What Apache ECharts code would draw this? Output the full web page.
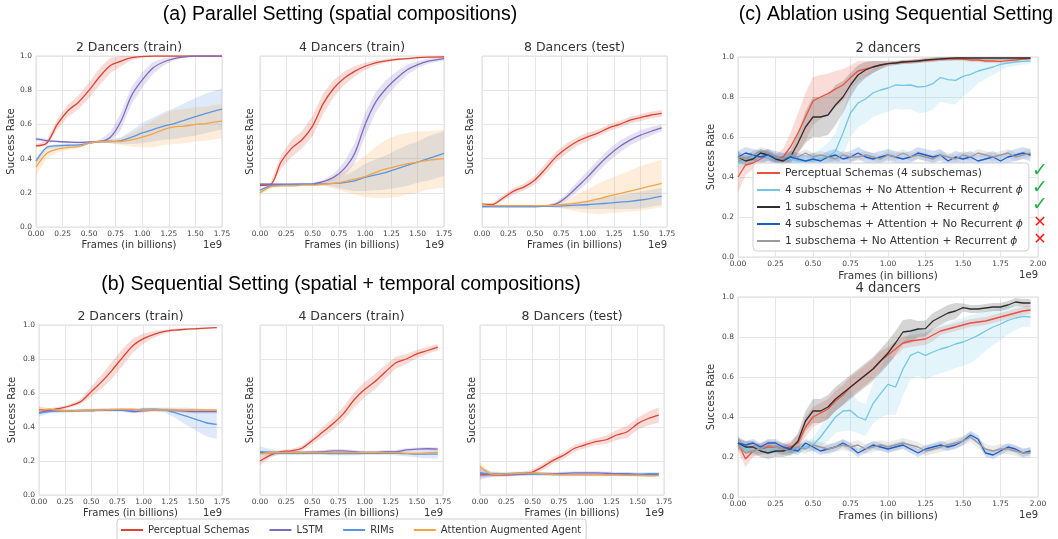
<!DOCTYPE html>
<html>
<head>
<meta charset="utf-8">
<script src="https://cdn.jsdelivr.net/npm/echarts@6/dist/echarts.min.js"></script>
<style>
  html, body { margin: 0; background: #fff; }
  #chart { width: 1058px; height: 539px; }
</style>
</head>
<body>
<div id="chart"></div>
<script>
// x positions (billions of frames)
const xA = [0, 0.1, 0.2, 0.3, 0.4, 0.5, 0.6, 0.7, 0.8, 0.9, 1.0, 1.1, 1.2, 1.3, 1.4, 1.5, 1.6, 1.75];
const xB = [0, 0.1, 0.2, 0.3, 0.4, 0.5, 0.6, 0.7, 0.8, 0.9, 1.0, 1.1, 1.2, 1.3, 1.4, 1.5, 1.6, 1.7];
const xC = [0, 0.05, 0.1, 0.15, 0.2, 0.25, 0.3, 0.35, 0.4, 0.45, 0.5, 0.55, 0.6, 0.65, 0.7, 0.75, 0.8, 0.85, 0.9, 0.95,
  1.0, 1.05, 1.1, 1.15, 1.2, 1.25, 1.3, 1.35, 1.4, 1.45, 1.5, 1.55, 1.6, 1.65, 1.7, 1.75, 1.8, 1.85, 1.9, 1.95];

const xMaxAB = 1.75;
const xMaxC = 2.0;

// (a) 2 dancers (train)
const a1_ps = [0.475, 0.49, 0.60, 0.68, 0.73, 0.80, 0.88, 0.945, 0.97, 0.99, 0.997, 1, 1, 1, 1, 1, 1, 1];
const a1_ps_sd = [0.01, 0.015, 0.03, 0.035, 0.04, 0.045, 0.05, 0.045, 0.03, 0.015, 0.005, 0, 0, 0, 0, 0, 0, 0];
const a1_lstm = [0.515, 0.505, 0.50, 0.497, 0.495, 0.497, 0.50, 0.525, 0.62, 0.77, 0.86, 0.93, 0.965, 0.985, 0.995, 1, 1, 1];
const a1_lstm_sd = [0.01, 0.01, 0.005, 0.005, 0.005, 0.005, 0.01, 0.03, 0.05, 0.05, 0.045, 0.035, 0.02, 0.01, 0.005, 0, 0, 0];
const a1_rims = [0.385, 0.465, 0.475, 0.478, 0.48, 0.49, 0.50, 0.50, 0.505, 0.525, 0.55, 0.57, 0.59, 0.605, 0.625, 0.645, 0.665, 0.69];
const a1_rims_sd = [0.02, 0.01, 0.01, 0.01, 0.01, 0.005, 0.005, 0.01, 0.02, 0.04, 0.06, 0.07, 0.08, 0.09, 0.1, 0.11, 0.115, 0.12];
const a1_aaa = [0.35, 0.43, 0.455, 0.465, 0.47, 0.49, 0.50, 0.50, 0.50, 0.51, 0.525, 0.545, 0.57, 0.585, 0.59, 0.60, 0.605, 0.62];
const a1_aaa_sd = [0.05, 0.03, 0.02, 0.015, 0.01, 0.005, 0.005, 0.01, 0.02, 0.04, 0.06, 0.08, 0.09, 0.1, 0.1, 0.1, 0.1, 0.1];

// (a) 4 dancers (train)
const a2_ps = [0.244, 0.248, 0.38, 0.46, 0.51, 0.59, 0.72, 0.81, 0.87, 0.91, 0.94, 0.96, 0.972, 0.98, 0.985, 0.99, 0.993, 0.995];
const a2_ps_sd = [0.01, 0.01, 0.04, 0.05, 0.05, 0.06, 0.06, 0.05, 0.04, 0.03, 0.02, 0.015, 0.01, 0.008, 0.005, 0.005, 0.003, 0.003];
const a2_lstm = [0.25, 0.25, 0.25, 0.25, 0.25, 0.252, 0.265, 0.29, 0.34, 0.43, 0.60, 0.73, 0.81, 0.87, 0.92, 0.95, 0.97, 0.985];
const a2_lstm_sd = [0.01, 0.005, 0.005, 0.005, 0.005, 0.005, 0.01, 0.02, 0.04, 0.06, 0.07, 0.06, 0.05, 0.04, 0.03, 0.02, 0.015, 0.01];
const a2_rims = [0.215, 0.24, 0.245, 0.248, 0.25, 0.25, 0.252, 0.255, 0.26, 0.27, 0.29, 0.305, 0.32, 0.34, 0.36, 0.38, 0.40, 0.43];
const a2_rims_sd = [0.01, 0.005, 0.005, 0.005, 0.005, 0.005, 0.01, 0.02, 0.04, 0.06, 0.08, 0.09, 0.1, 0.11, 0.12, 0.12, 0.13, 0.13];
const a2_aaa = [0.20, 0.235, 0.24, 0.24, 0.245, 0.245, 0.25, 0.255, 0.265, 0.28, 0.295, 0.32, 0.34, 0.355, 0.37, 0.38, 0.39, 0.40];
const a2_aaa_sd = [0.015, 0.01, 0.005, 0.005, 0.005, 0.005, 0.01, 0.03, 0.06, 0.09, 0.12, 0.15, 0.17, 0.18, 0.18, 0.18, 0.17, 0.17];

// (a) 8 dancers (test)
const a3_ps = [0.133, 0.132, 0.17, 0.21, 0.235, 0.275, 0.34, 0.41, 0.46, 0.50, 0.527, 0.55, 0.58, 0.60, 0.625, 0.64, 0.655, 0.665];
const a3_ps_sd = [0.005, 0.005, 0.015, 0.02, 0.02, 0.025, 0.03, 0.03, 0.03, 0.025, 0.025, 0.02, 0.02, 0.02, 0.02, 0.02, 0.02, 0.02];
const a3_lstm = [0.12, 0.12, 0.12, 0.12, 0.12, 0.12, 0.122, 0.135, 0.176, 0.234, 0.293, 0.36, 0.42, 0.469, 0.508, 0.537, 0.56, 0.58];
const a3_lstm_sd = [0.003, 0.003, 0.003, 0.003, 0.003, 0.003, 0.005, 0.01, 0.02, 0.03, 0.035, 0.035, 0.035, 0.035, 0.03, 0.03, 0.025, 0.02];
const a3_rims = [0.12, 0.12, 0.12, 0.12, 0.12, 0.12, 0.121, 0.122, 0.125, 0.128, 0.13, 0.135, 0.14, 0.145, 0.15, 0.158, 0.168, 0.18];
const a3_rims_sd = [0.005, 0.003, 0.003, 0.003, 0.003, 0.003, 0.005, 0.01, 0.015, 0.02, 0.025, 0.03, 0.035, 0.04, 0.045, 0.05, 0.05, 0.05];
const a3_aaa = [0.132, 0.125, 0.125, 0.125, 0.125, 0.125, 0.125, 0.127, 0.133, 0.14, 0.15, 0.165, 0.18, 0.195, 0.21, 0.225, 0.24, 0.255];
const a3_aaa_sd = [0.005, 0.003, 0.003, 0.003, 0.003, 0.003, 0.005, 0.015, 0.03, 0.05, 0.07, 0.09, 0.1, 0.11, 0.12, 0.13, 0.135, 0.14];

// (b) 2 dancers (train)
const b1_ps = [0.50, 0.50, 0.51, 0.525, 0.55, 0.608, 0.667, 0.735, 0.81, 0.88, 0.92, 0.945, 0.962, 0.97, 0.975, 0.978, 0.982, 0.985];
const b1_ps_sd = [0.02, 0.01, 0.01, 0.01, 0.015, 0.03, 0.04, 0.05, 0.05, 0.04, 0.03, 0.02, 0.01, 0.008, 0.005, 0.005, 0.004, 0.004];
const b1_lstm = [0.485, 0.495, 0.495, 0.495, 0.498, 0.497, 0.50, 0.50, 0.498, 0.49, 0.495, 0.50, 0.50, 0.497, 0.493, 0.49, 0.49, 0.49];
const b1_lstm_sd = 0.01;
const b1_rims = [0.48, 0.49, 0.495, 0.495, 0.495, 0.497, 0.50, 0.50, 0.50, 0.50, 0.505, 0.505, 0.50, 0.485, 0.465, 0.445, 0.425, 0.415];
const b1_rims_sd = [0.02, 0.01, 0.01, 0.005, 0.005, 0.005, 0.005, 0.005, 0.005, 0.005, 0.01, 0.01, 0.015, 0.03, 0.05, 0.065, 0.08, 0.085];
const b1_aaa = [0.495, 0.505, 0.497, 0.495, 0.498, 0.50, 0.50, 0.503, 0.505, 0.505, 0.50, 0.50, 0.50, 0.50, 0.50, 0.50, 0.50, 0.50];
const b1_aaa_sd = 0.008;

// (b) 4 dancers (train)
const b2_ps = [0.20, 0.235, 0.255, 0.26, 0.275, 0.32, 0.37, 0.42, 0.48, 0.56, 0.62, 0.667, 0.725, 0.778, 0.80, 0.83, 0.85, 0.87];
const b2_ps_sd = [0.025, 0.015, 0.01, 0.01, 0.015, 0.02, 0.03, 0.035, 0.04, 0.045, 0.045, 0.045, 0.04, 0.035, 0.03, 0.025, 0.02, 0.02];
const b2_lstm = [0.25, 0.25, 0.25, 0.25, 0.25, 0.252, 0.255, 0.26, 0.26, 0.255, 0.25, 0.25, 0.255, 0.255, 0.265, 0.27, 0.272, 0.27];
const b2_lstm_sd = 0.01;
const b2_rims = [0.255, 0.25, 0.245, 0.245, 0.245, 0.245, 0.245, 0.243, 0.243, 0.243, 0.245, 0.245, 0.245, 0.245, 0.243, 0.24, 0.24, 0.24];
const b2_rims_sd = [0.03, 0.02, 0.01, 0.01, 0.01, 0.01, 0.01, 0.01, 0.01, 0.01, 0.01, 0.01, 0.01, 0.012, 0.015, 0.02, 0.025, 0.025];
const b2_aaa = [0.24, 0.25, 0.25, 0.25, 0.25, 0.25, 0.25, 0.25, 0.25, 0.25, 0.25, 0.25, 0.25, 0.25, 0.245, 0.245, 0.248, 0.25];
const b2_aaa_sd = 0.008;

// (b) 8 dancers (test)
const b3_ps = [0.118, 0.12, 0.118, 0.12, 0.125, 0.135, 0.167, 0.205, 0.235, 0.275, 0.295, 0.314, 0.325, 0.353, 0.372, 0.42, 0.45, 0.47];
const b3_ps_sd = [0.01, 0.01, 0.01, 0.01, 0.01, 0.015, 0.02, 0.02, 0.02, 0.02, 0.02, 0.02, 0.025, 0.03, 0.035, 0.035, 0.04, 0.045];
const b3_lstm = [0.13, 0.12, 0.12, 0.12, 0.122, 0.125, 0.125, 0.125, 0.127, 0.13, 0.13, 0.13, 0.128, 0.125, 0.125, 0.122, 0.12, 0.12];
const b3_lstm_sd = [0.04, 0.015, 0.01, 0.01, 0.01, 0.01, 0.01, 0.01, 0.01, 0.01, 0.01, 0.01, 0.01, 0.01, 0.01, 0.01, 0.01, 0.01];
const b3_rims = [0.13, 0.125, 0.125, 0.127, 0.128, 0.125, 0.125, 0.12, 0.12, 0.12, 0.12, 0.12, 0.12, 0.12, 0.122, 0.12, 0.125, 0.125];
const b3_rims_sd = [0.03, 0.015, 0.01, 0.01, 0.01, 0.01, 0.01, 0.01, 0.01, 0.01, 0.01, 0.01, 0.01, 0.01, 0.01, 0.01, 0.01, 0.01];
const b3_aaa = [0.17, 0.125, 0.122, 0.125, 0.127, 0.13, 0.125, 0.122, 0.12, 0.12, 0.12, 0.12, 0.118, 0.118, 0.115, 0.115, 0.112, 0.115];
const b3_aaa_sd = [0.02, 0.01, 0.008, 0.008, 0.008, 0.008, 0.008, 0.008, 0.008, 0.008, 0.008, 0.008, 0.008, 0.008, 0.008, 0.008, 0.008, 0.008];

// (c) 2 dancers
const c1_ps = [0.40, 0.46, 0.47, 0.49, 0.51, 0.49, 0.50, 0.55, 0.62, 0.70, 0.78, 0.80, 0.817, 0.84, 0.86, 0.897, 0.93, 0.94, 0.95, 0.96,
  0.967, 0.97, 0.975, 0.975, 0.98, 0.982, 0.985, 0.99, 0.99, 0.99, 0.99, 0.985, 0.985, 0.98, 0.98, 0.978, 0.982, 0.985, 0.99, 0.993];
const c1_ps_sd = [0.08, 0.05, 0.03, 0.03, 0.03, 0.02, 0.04, 0.07, 0.1, 0.12, 0.12, 0.11, 0.1, 0.09, 0.08, 0.06, 0.05, 0.04, 0.03, 0.02,
  0.015, 0.01, 0.01, 0.01, 0.01, 0.01, 0.01, 0.01, 0.01, 0.01, 0.01, 0.01, 0.01, 0.01, 0.01, 0.01, 0.01, 0.01, 0.01, 0.01];
const c1_noatt = [0.47, 0.48, 0.50, 0.51, 0.50, 0.49, 0.49, 0.49, 0.48, 0.48, 0.48, 0.49, 0.50, 0.53, 0.62, 0.72, 0.77, 0.79, 0.82, 0.835,
  0.845, 0.86, 0.858, 0.86, 0.85, 0.853, 0.867, 0.897, 0.887, 0.883, 0.903, 0.913, 0.93, 0.94, 0.95, 0.963, 0.97, 0.975, 0.978, 0.98];
const c1_noatt_sd = [0.03, 0.03, 0.03, 0.03, 0.03, 0.03, 0.03, 0.03, 0.03, 0.03, 0.04, 0.05, 0.07, 0.09, 0.11, 0.12, 0.12, 0.12, 0.12, 0.12,
  0.12, 0.12, 0.12, 0.12, 0.13, 0.13, 0.13, 0.12, 0.12, 0.12, 0.1, 0.08, 0.06, 0.05, 0.04, 0.03, 0.02, 0.02, 0.015, 0.015];
const c1_sub1 = [0.50, 0.48, 0.49, 0.52, 0.51, 0.49, 0.48, 0.50, 0.57, 0.65, 0.70, 0.70, 0.71, 0.76, 0.80, 0.86, 0.91, 0.935, 0.95, 0.96,
  0.967, 0.97, 0.975, 0.978, 0.98, 0.985, 0.988, 0.99, 0.993, 0.995, 0.995, 0.995, 0.995, 0.995, 0.995, 0.995, 0.995, 0.995, 0.995, 0.995];
const c1_sub1_sd = [0.03, 0.02, 0.02, 0.02, 0.02, 0.02, 0.02, 0.03, 0.05, 0.08, 0.1, 0.1, 0.1, 0.1, 0.08, 0.06, 0.05, 0.04, 0.03, 0.02,
  0.01, 0.01, 0.01, 0.01, 0.01, 0.01, 0.01, 0.01, 0.01, 0.01, 0.01, 0.01, 0.01, 0.01, 0.01, 0.01, 0.01, 0.01, 0.01, 0.01];
const c1_norec = [0.50, 0.52, 0.51, 0.50, 0.51, 0.50, 0.49, 0.50, 0.49, 0.48, 0.49, 0.48, 0.50, 0.51, 0.49, 0.50, 0.52, 0.50, 0.49, 0.50,
  0.51, 0.50, 0.49, 0.50, 0.52, 0.51, 0.50, 0.51, 0.48, 0.50, 0.49, 0.50, 0.48, 0.49, 0.50, 0.48, 0.50, 0.51, 0.52, 0.51];
const c1_norec_sd = 0.03;
const c1_gray = [0.50, 0.49, 0.51, 0.53, 0.52, 0.50, 0.49, 0.51, 0.50, 0.52, 0.50, 0.51, 0.50, 0.49, 0.51, 0.50, 0.50, 0.51, 0.50, 0.49,
  0.51, 0.50, 0.52, 0.50, 0.51, 0.50, 0.49, 0.51, 0.50, 0.49, 0.51, 0.50, 0.52, 0.51, 0.50, 0.51, 0.52, 0.50, 0.51, 0.52];
const c1_gray_sd = 0.02;

// (c) 4 dancers
const c2_ps = [0.27, 0.19, 0.23, 0.24, 0.25, 0.25, 0.24, 0.25, 0.27, 0.35, 0.40, 0.42, 0.44, 0.48, 0.51, 0.55, 0.58, 0.61, 0.64, 0.68,
  0.71, 0.74, 0.77, 0.78, 0.785, 0.79, 0.81, 0.83, 0.84, 0.85, 0.86, 0.87, 0.875, 0.88, 0.89, 0.90, 0.91, 0.92, 0.93, 0.935];
const c2_ps_sd = [0.04, 0.04, 0.03, 0.03, 0.03, 0.03, 0.03, 0.03, 0.04, 0.05, 0.05, 0.05, 0.05, 0.05, 0.05, 0.05, 0.05, 0.05, 0.05, 0.05,
  0.04, 0.04, 0.03, 0.03, 0.03, 0.03, 0.03, 0.02, 0.02, 0.02, 0.02, 0.02, 0.02, 0.02, 0.02, 0.02, 0.02, 0.02, 0.02, 0.02];
const c2_noatt = [0.27, 0.24, 0.23, 0.24, 0.23, 0.24, 0.23, 0.23, 0.24, 0.25, 0.26, 0.30, 0.35, 0.40, 0.43, 0.433, 0.40, 0.385, 0.467, 0.517,
  0.563, 0.55, 0.64, 0.708, 0.725, 0.708, 0.725, 0.74, 0.75, 0.765, 0.775, 0.79, 0.808, 0.83, 0.85, 0.865, 0.883, 0.895, 0.903, 0.90];
const c2_noatt_sd = [0.02, 0.02, 0.02, 0.02, 0.02, 0.02, 0.02, 0.02, 0.02, 0.02, 0.04, 0.05, 0.07, 0.08, 0.1, 0.1, 0.08, 0.08, 0.1, 0.12,
  0.15, 0.14, 0.13, 0.12, 0.12, 0.12, 0.12, 0.12, 0.12, 0.12, 0.12, 0.12, 0.11, 0.1, 0.09, 0.08, 0.07, 0.06, 0.05, 0.05];
const c2_sub1 = [0.27, 0.25, 0.25, 0.23, 0.22, 0.23, 0.23, 0.24, 0.28, 0.38, 0.43, 0.43, 0.45, 0.49, 0.52, 0.55, 0.58, 0.61, 0.64, 0.68,
  0.72, 0.77, 0.825, 0.83, 0.84, 0.842, 0.88, 0.90, 0.92, 0.93, 0.947, 0.94, 0.94, 0.945, 0.95, 0.95, 0.96, 0.975, 0.97, 0.97];
const c2_sub1_sd = [0.03, 0.03, 0.03, 0.03, 0.03, 0.03, 0.03, 0.03, 0.04, 0.05, 0.06, 0.06, 0.06, 0.06, 0.06, 0.06, 0.06, 0.06, 0.06, 0.06,
  0.06, 0.06, 0.06, 0.06, 0.04, 0.04, 0.04, 0.04, 0.04, 0.04, 0.02, 0.02, 0.02, 0.02, 0.02, 0.02, 0.02, 0.02, 0.02, 0.02];
const c2_norec = [0.27, 0.26, 0.27, 0.25, 0.27, 0.27, 0.25, 0.24, 0.23, 0.27, 0.25, 0.23, 0.24, 0.25, 0.27, 0.25, 0.22, 0.24, 0.26, 0.25,
  0.24, 0.25, 0.26, 0.24, 0.22, 0.24, 0.25, 0.26, 0.25, 0.26, 0.28, 0.31, 0.29, 0.22, 0.21, 0.23, 0.25, 0.24, 0.22, 0.23];
const c2_norec_sd = 0.02;
const c2_gray = [0.26, 0.22, 0.23, 0.24, 0.26, 0.25, 0.24, 0.23, 0.25, 0.24, 0.26, 0.25, 0.24, 0.25, 0.26, 0.25, 0.26, 0.24, 0.25, 0.26,
  0.25, 0.26, 0.27, 0.26, 0.25, 0.23, 0.24, 0.25, 0.26, 0.27, 0.28, 0.30, 0.27, 0.24, 0.23, 0.24, 0.24, 0.23, 0.22, 0.22];
const c2_gray_sd = 0.025;

const namesAB = ['Perceptual Schemas', 'LSTM', 'RIMs', 'Attention Augmented Agent'];
const colorsAB = ['#dc4434', '#7d6bc1', '#5b95e2', '#f4a446'];
const namesC = [
  'Perceptual Schemas (4 subschemas)',
  '4 subschemas + No Attention + Recurrent ϕ',
  '1 subschema + Attention + Recurrent ϕ',
  '4 subschemas + Attention + No Recurrent ϕ',
  '1 subschema + No Attention + Recurrent ϕ'
];
const colorsC = ['#e8513f', '#74c6e6', '#2e2e2e', '#1c5cc8', '#9b9b9b'];
const marksC = ['✓', '✓', '✓', '✕', '✕'];

const FONT = 'DejaVu Sans';
const chart = echarts.init(document.getElementById('chart'));

const grids = [
  { left: 36, top: 56, width: 186, height: 171 },
  { left: 260, top: 56, width: 184, height: 171 },
  { left: 482, top: 56, width: 185, height: 171 },
  { left: 39, top: 325, width: 183, height: 170 },
  { left: 260, top: 325, width: 183, height: 170 },
  { left: 480, top: 325, width: 184, height: 170 },
  { left: 738, top: 57, width: 300, height: 200 },
  { left: 738, top: 297, width: 300, height: 200 }
];
const yNameGap = [20, 5, 7, 22, 5, 3, 22, 22];
const yLabelShown = [true, false, false, true, false, false, true, true];

const series = [];
// one run = shaded spread (custom polygon through the axes) + mean line
function addRun(gi, xs, name, color, mean, spread, smooth) {
  const sd = i => (Array.isArray(spread) ? spread[i] : spread);
  const lo = mean.map((m, i) => Math.max(0, m - sd(i)));
  const hi = mean.map((m, i) => Math.min(1, m + sd(i)));
  series.push({
    type: 'custom', xAxisIndex: gi, yAxisIndex: gi, silent: true, z: 1,
    data: xs.map((x, i) => [x, lo[i], hi[i]]),
    encode: { x: 0, y: [1, 2] },
    renderItem: (params, api) => {
      if (params.dataIndex !== 0) return null;
      const pts = [];
      for (let i = 0; i < xs.length; i++) pts.push(api.coord([xs[i], lo[i]]));
      for (let i = xs.length - 1; i >= 0; i--) pts.push(api.coord([xs[i], hi[i]]));
      return { type: 'polygon', shape: { points: pts }, style: { fill: color, opacity: 0.2 } };
    }
  });
  series.push({
    type: 'line', name: name, xAxisIndex: gi, yAxisIndex: gi, symbol: 'none', smooth: smooth, z: 3,
    lineStyle: { color: color, width: 1.3 }, itemStyle: { color: color },
    data: xs.map((x, i) => [x, mean[i]])
  });
}

const panelsAB = [
  [0, xA, [a1_ps, a1_lstm, a1_rims, a1_aaa], [a1_ps_sd, a1_lstm_sd, a1_rims_sd, a1_aaa_sd]],
  [1, xA, [a2_ps, a2_lstm, a2_rims, a2_aaa], [a2_ps_sd, a2_lstm_sd, a2_rims_sd, a2_aaa_sd]],
  [2, xB, [a3_ps, a3_lstm, a3_rims, a3_aaa], [a3_ps_sd, a3_lstm_sd, a3_rims_sd, a3_aaa_sd]],
  [3, xB, [b1_ps, b1_lstm, b1_rims, b1_aaa], [b1_ps_sd, b1_lstm_sd, b1_rims_sd, b1_aaa_sd]],
  [4, xB, [b2_ps, b2_lstm, b2_rims, b2_aaa], [b2_ps_sd, b2_lstm_sd, b2_rims_sd, b2_aaa_sd]],
  [5, xB, [b3_ps, b3_lstm, b3_rims, b3_aaa], [b3_ps_sd, b3_lstm_sd, b3_rims_sd, b3_aaa_sd]]
];
panelsAB.forEach(([gi, xs, means, sds]) => {
  means.forEach((m, k) => addRun(gi, xs, namesAB[k], colorsAB[k], m, sds[k], 0.3));
});
const panelsC = [
  [6, [c1_ps, c1_noatt, c1_sub1, c1_norec, c1_gray], [c1_ps_sd, c1_noatt_sd, c1_sub1_sd, c1_norec_sd, c1_gray_sd]],
  [7, [c2_ps, c2_noatt, c2_sub1, c2_norec, c2_gray], [c2_ps_sd, c2_noatt_sd, c2_sub1_sd, c2_norec_sd, c2_gray_sd]]
];
panelsC.forEach(([gi, means, sds]) => {
  means.forEach((m, k) => addRun(gi, xC, namesC[k], colorsC[k], m, sds[k], false));
});

const xAxis = grids.map((g, i) => ({
  type: 'value', gridIndex: i, min: 0, max: i < 6 ? xMaxAB : xMaxC, interval: 0.25,
  name: 'Frames (in billions)', nameLocation: 'middle', nameGap: i < 6 ? 13 : 14,
  nameTextStyle: { fontFamily: FONT, fontSize: i < 6 ? 10 : 10.5, color: '#333' },
  axisLine: { show: false }, axisTick: { show: false },
  axisLabel: { fontFamily: FONT, fontSize: 7.5, color: '#444', margin: 3, formatter: v => v.toFixed(2) },
  splitLine: { lineStyle: { color: '#e6e6e6', width: 1 } }
}));
const yAxis = grids.map((g, i) => ({
  type: 'value', gridIndex: i, min: 0, max: 1, interval: 0.2,
  name: 'Success Rate', nameLocation: 'middle', nameGap: yNameGap[i],
  nameTextStyle: { fontFamily: FONT, fontSize: 10, color: '#333' },
  axisLine: { show: false }, axisTick: { show: false },
  axisLabel: { show: yLabelShown[i], fontFamily: FONT, fontSize: 7.5, color: '#444', margin: 4, formatter: v => v.toFixed(1) },
  splitLine: { lineStyle: { color: '#e6e6e6', width: 1 } }
}));

const graphic = [];
function addText(x, y, text, size, opts) {
  graphic.push({
    type: 'text', x: x, y: y, silent: true, z: 10,
    style: Object.assign({ text: text, fontSize: size, fontFamily: FONT, fill: '#333', align: 'center', verticalAlign: 'middle' }, opts || {})
  });
}
addText(340, 15, '(a) Parallel Setting (spatial compositions)', 19.5, { fontFamily: 'Liberation Sans', fill: '#000' });
addText(341, 285, '(b) Sequential Setting (spatial + temporal compositions)', 19.5, { fontFamily: 'Liberation Sans', fill: '#000' });
addText(896, 15, '(c) Ablation using Sequential Setting', 19.5, { fontFamily: 'Liberation Sans', fill: '#000' });
const subTitles = ['2 Dancers (train)', '4 Dancers (train)', '8 Dancers (test)', '2 Dancers (train)', '4 Dancers (train)', '8 Dancers (test)', '2 dancers', '4 dancers'];
grids.forEach((g, i) => {
  addText(g.left + g.width / 2, g.top - 8, subTitles[i], i < 6 ? 12.5 : 13.2);
  addText(g.left + g.width, g.top + g.height + 18, '1e9', 10, { align: 'right' });
});
marksC.forEach((m, k) => {
  const ok = m === '✓';
  addText(1040, 172 + k * 17 - (ok ? 1 : 0), m, ok ? 19 : 16, { fill: ok ? '#22b04a' : '#ff1a1a', fontWeight: 'bold' });
});

chart.setOption({
  backgroundColor: '#fff',
  animation: false,
  grid: grids.map(g => Object.assign({ show: true, borderColor: '#dcdcdc', borderWidth: 1, outerBoundsMode: 'none' }, g)),
  xAxis: xAxis,
  yAxis: yAxis,
  legend: [
    {
      data: namesAB, orient: 'horizontal', left: 117, top: 519,
      icon: 'rect', itemWidth: 22, itemHeight: 2, itemGap: 20,
      padding: [5, 5, 5, 4], borderColor: '#cccccc', borderWidth: 1, borderRadius: 3,
      textStyle: { fontFamily: FONT, fontSize: 10, color: '#333', lineHeight: 12 }
    },
    {
      data: namesC, orient: 'vertical', left: 753, top: 163,
      icon: 'rect', itemWidth: 23, itemHeight: 2, itemGap: 3,
      padding: [3, 6, 3, 4], borderColor: '#d0d0d0', borderWidth: 1, borderRadius: 4,
      backgroundColor: 'rgba(255,255,255,0.85)',
      formatter: name => name.replace('ϕ', '{p|ϕ}'),
      textStyle: {
        fontFamily: FONT, fontSize: 10.7, color: '#333', lineHeight: 14,
        rich: { p: { fontFamily: FONT, fontStyle: 'italic', fontSize: 10.7, color: '#333', lineHeight: 14 } }
      }
    }
  ],
  graphic: graphic,
  series: series
});
</script>
</body>
</html>
